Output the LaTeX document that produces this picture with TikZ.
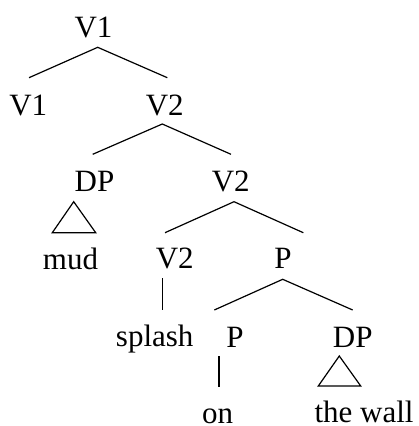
\documentclass[tikz,border=0pt]{standalone}
\usepackage{fontspec}
\setmainfont{Liberation Serif}
\begin{document}
\begin{tikzpicture}[x=1pt,y=-1pt,
  lbl/.style={anchor=base,inner sep=0pt,font=\fontsize{31}{36}\selectfont},
  edge/.style={line width=1.2pt}]
\useasboundingbox (0,0) rectangle (419,426);
% labels
\node[lbl] (v1top) at (93.5,37) {V1};
\node[lbl] (v1) at (28.3,115) {V1};
\node[lbl] (v2a) at (164.7,115) {V2};
\node[lbl] (dp1) at (94.5,191.7) {DP};
\node[lbl] (v2b) at (230.8,191.7) {V2};
\node[lbl] (mud) at (70.5,269) {mud};
\node[lbl] (v2c) at (174.7,268.3) {V2};
\node[lbl] (p1) at (283,268.3) {P};
\node[lbl] (splash) at (154.7,346.7) {splash};
\node[lbl] (p2) at (235,347.3) {P};
\node[lbl] (dp2) at (352.7,347.3) {DP};
\node[lbl] (on) at (217.7,423) {on};
\node[lbl] (wall) at (364,422.7) {the wall};
% connector end points
\coordinate (v1top-s) at (97.7,47.3);
\coordinate (v1-n) at (29,77.7);
\coordinate (v2a-n) at (167.3,77.7);
\coordinate (v2a-s) at (162.3,124);
\coordinate (dp1-n) at (92.7,154.3);
\coordinate (v2b-n) at (231,154.3);
\coordinate (dp1-s) at (73.7,201.7);
\coordinate (mud-l) at (52.3,232.7);
\coordinate (mud-r) at (95.7,232.7);
\coordinate (v2b-s) at (234,201.7);
\coordinate (v2c-n) at (165,232.7);
\coordinate (p1-n) at (303.3,232.7);
\coordinate (v2c-s) at (162.3,278.3);
\coordinate (splash-n) at (162.3,310);
\coordinate (p1-s) at (282.7,279.3);
\coordinate (p2-n) at (214.3,310);
\coordinate (dp2-n) at (352.7,310);
\coordinate (p2-s) at (219,356);
\coordinate (on-n) at (219,386.7);
\coordinate (dp2-s) at (339.3,356);
\coordinate (wall-l) at (318.3,386);
\coordinate (wall-r) at (360.7,386);
% connectors
\draw[edge] (v1-n) -- (v1top-s) -- (v2a-n);
\draw[edge] (dp1-n) -- (v2a-s) -- (v2b-n);
\draw[edge] (dp1-s) -- (mud-r) -- (mud-l) -- cycle;
\draw[edge] (v2c-n) -- (v2b-s) -- (p1-n);
\draw[edge] (v2c-s) -- (splash-n);
\draw[edge] (p2-n) -- (p1-s) -- (dp2-n);
\draw[edge] (p2-s) -- (on-n);
\draw[edge] (dp2-s) -- (wall-r) -- (wall-l) -- cycle;
\end{tikzpicture}
\end{document}
